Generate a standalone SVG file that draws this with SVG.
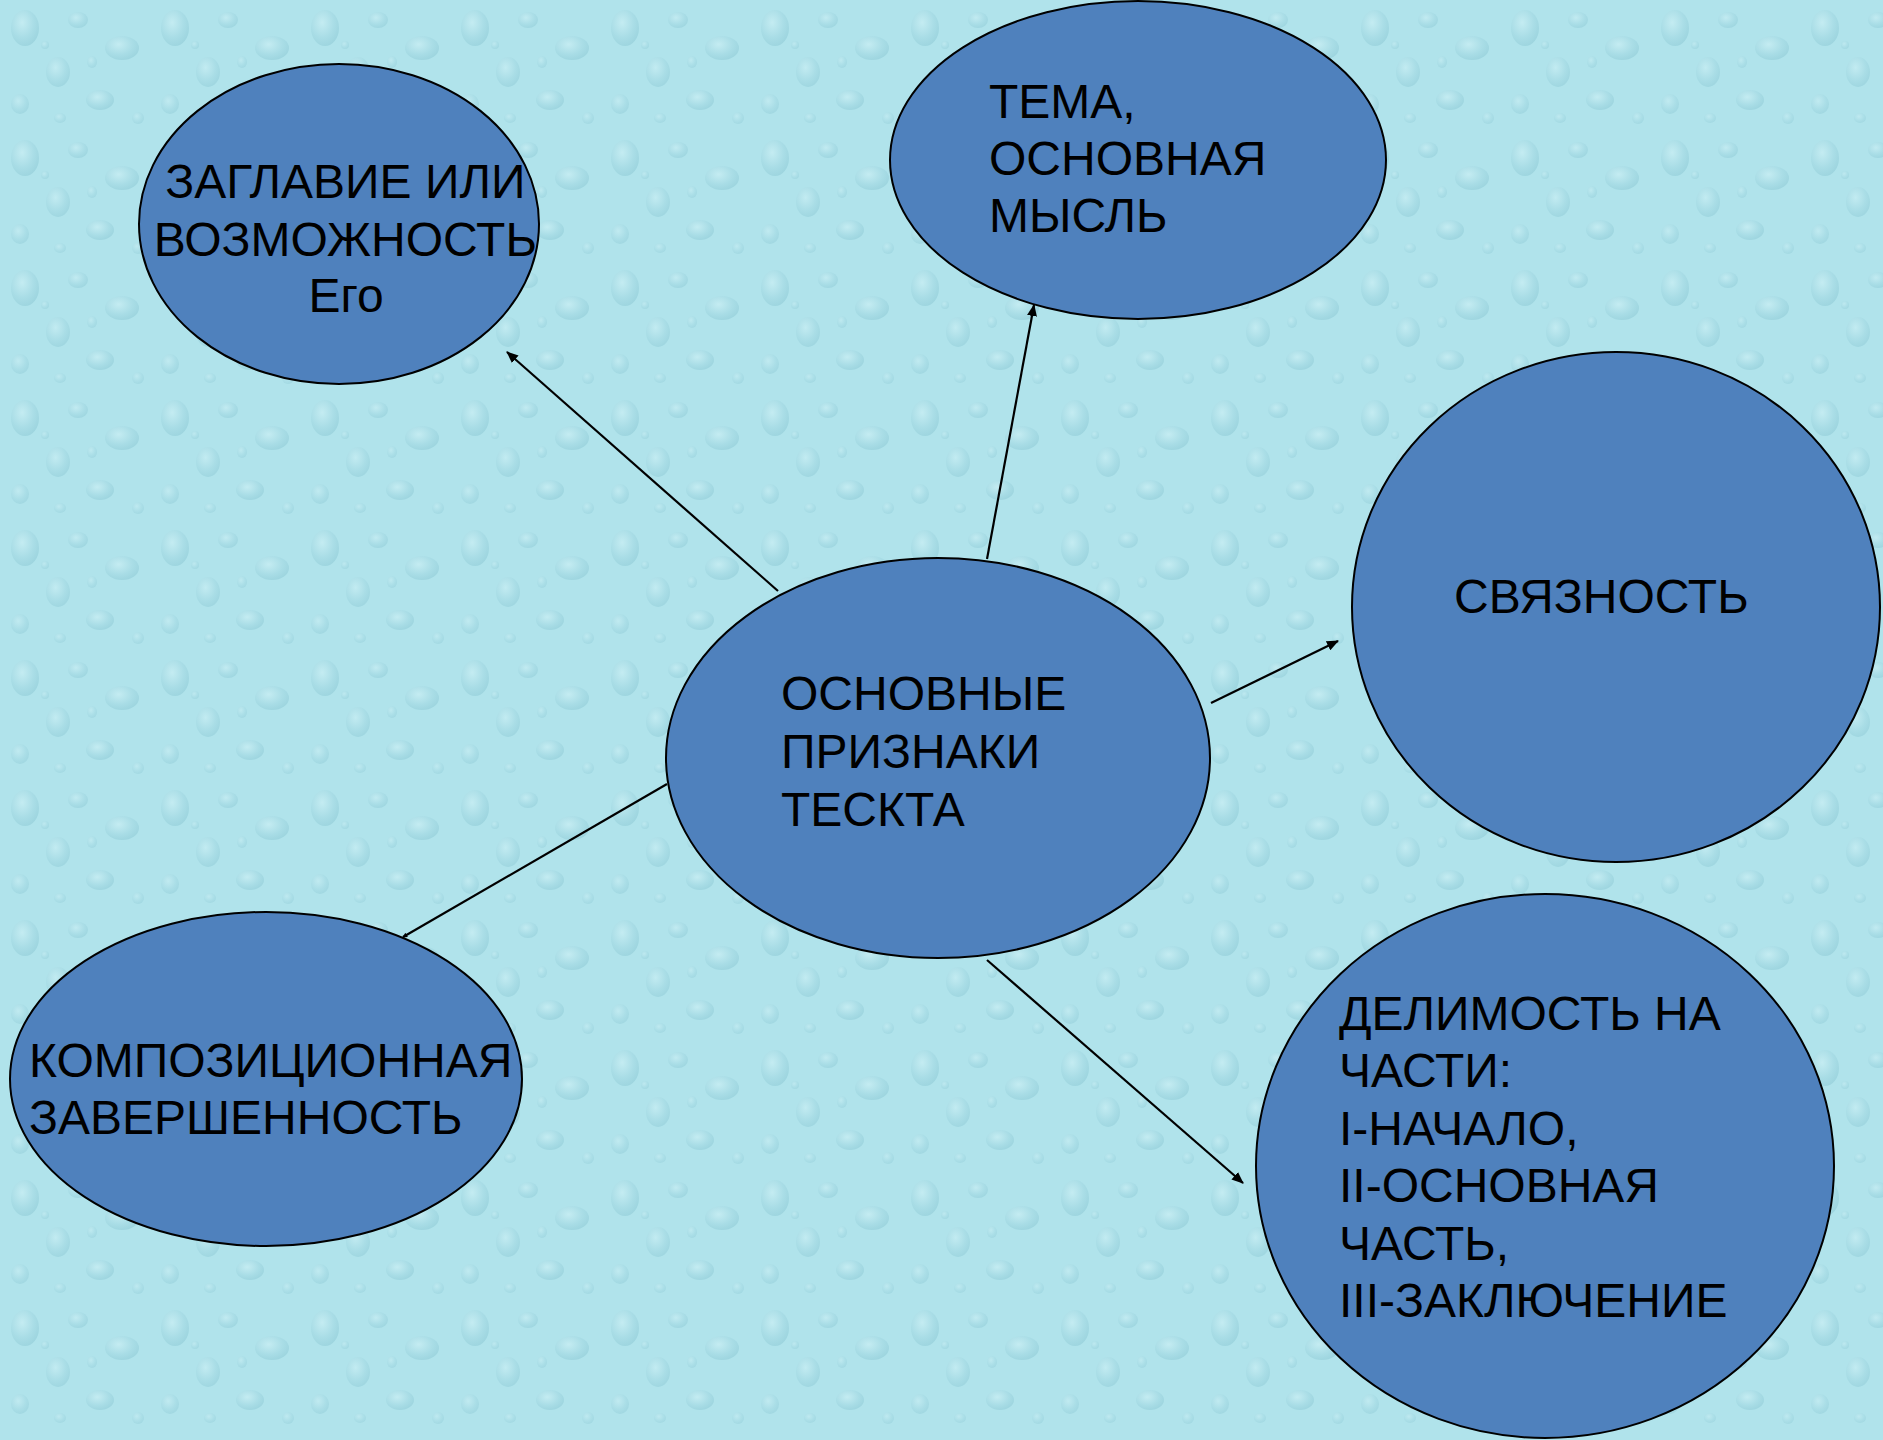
<svg xmlns="http://www.w3.org/2000/svg" width="1883" height="1440" viewBox="0 0 1883 1440">
  <defs>
    <style>
      .node { fill: #4f81bd; stroke: #000000; stroke-width: 2; }
      .lbl { font-family: "Liberation Sans", Arial, sans-serif; font-size: 48px; fill: #000000; }
      .conn { stroke: #000000; stroke-width: 2.2; fill: none; }
    </style>
    <radialGradient id="drop" cx="0.4" cy="0.35" r="0.7">
      <stop offset="0" stop-color="#d4f3f7"/>
      <stop offset="0.6" stop-color="#a3d8e2"/>
      <stop offset="1" stop-color="#8cc8d4"/>
    </radialGradient>
    <pattern id="water" x="0" y="0" width="150" height="130" patternUnits="userSpaceOnUse">
      <rect width="150" height="130" fill="#b0e3eb"/>
      <ellipse cx="25" cy="28" rx="14" ry="18" fill="url(#drop)" opacity="0.55"/>
      <ellipse cx="78" cy="20" rx="10" ry="8" fill="url(#drop)" opacity="0.5"/>
      <ellipse cx="122" cy="48" rx="17" ry="12" fill="url(#drop)" opacity="0.55"/>
      <ellipse cx="58" cy="72" rx="12" ry="15" fill="url(#drop)" opacity="0.5"/>
      <ellipse cx="100" cy="100" rx="14" ry="10" fill="url(#drop)" opacity="0.55"/>
      <ellipse cx="20" cy="104" rx="9" ry="10" fill="url(#drop)" opacity="0.45"/>
      <ellipse cx="138" cy="118" rx="6" ry="6" fill="url(#drop)" opacity="0.4"/>
      <ellipse cx="60" cy="118" rx="6" ry="5" fill="url(#drop)" opacity="0.4"/>
      <ellipse cx="92" cy="62" rx="5" ry="6" fill="url(#drop)" opacity="0.4"/>
      <ellipse cx="45" cy="45" rx="4" ry="4" fill="url(#drop)" opacity="0.4"/>
    </pattern>
    <marker id="arrow" viewBox="0 0 12 10" refX="11" refY="5" markerWidth="12" markerHeight="10" markerUnits="userSpaceOnUse" orient="auto">
      <path d="M0,0 L12,5 L0,10 Z" fill="#000000"/>
    </marker>
    <marker id="arrowSmall" viewBox="0 0 6 6" refX="5" refY="3" markerWidth="5" markerHeight="5" markerUnits="userSpaceOnUse" orient="auto">
      <path d="M0,0 L6,3 L0,6 Z" fill="#000000"/>
    </marker>
  </defs>

  <rect id="background" x="0" y="0" width="1883" height="1440" fill="url(#water)"/>

  <g id="connectors">
    <line class="conn" x1="778" y1="591" x2="507" y2="352" marker-end="url(#arrow)"/>
    <line class="conn" x1="987" y1="559" x2="1034" y2="305" marker-end="url(#arrow)"/>
    <line class="conn" x1="1211" y1="703" x2="1338" y2="641" marker-end="url(#arrow)"/>
    <line class="conn" x1="667" y1="784" x2="403" y2="937" marker-end="url(#arrowSmall)"/>
    <line class="conn" x1="987" y1="960" x2="1243" y2="1183" marker-end="url(#arrow)"/>
  </g>

  <g id="node-title">
    <ellipse class="node" cx="339" cy="224" rx="200" ry="160"/>
    <text class="lbl" text-anchor="middle">
      <tspan x="352" y="198">ЗАГЛАВИЕ ИЛИ</tspan>
      <tspan x="352" y="256">ВОЗМОЖНОСТЬ</tspan>
      <tspan x="346" y="312">Его</tspan>
    </text>
  </g>

  <g id="node-theme">
    <ellipse class="node" cx="1138" cy="160" rx="248" ry="159"/>
    <text class="lbl">
      <tspan x="989" y="118">ТЕМА,</tspan>
      <tspan x="989" y="175">ОСНОВНАЯ</tspan>
      <tspan x="989" y="232">МЫСЛЬ</tspan>
    </text>
  </g>

  <g id="node-coherence">
    <ellipse class="node" cx="1616" cy="607" rx="264" ry="255"/>
    <text class="lbl" x="1454" y="613">СВЯЗНОСТЬ</text>
  </g>

  <g id="node-center">
    <ellipse class="node" cx="938" cy="758" rx="272" ry="200"/>
    <text class="lbl">
      <tspan x="781" y="710">ОСНОВНЫЕ</tspan>
      <tspan x="781" y="768">ПРИЗНАКИ</tspan>
      <tspan x="781" y="826">ТЕСКТА</tspan>
    </text>
  </g>

  <g id="node-composition">
    <ellipse class="node" cx="266" cy="1079" rx="256" ry="167"/>
    <text class="lbl">
      <tspan x="29" y="1077">КОМПОЗИЦИОННАЯ</tspan>
      <tspan x="29" y="1134">ЗАВЕРШЕННОСТЬ</tspan>
    </text>
  </g>

  <g id="node-parts">
    <ellipse class="node" cx="1545" cy="1166" rx="289" ry="272"/>
    <text class="lbl">
      <tspan x="1339" y="1030">ДЕЛИМОСТЬ НА</tspan>
      <tspan x="1339" y="1087">ЧАСТИ:</tspan>
      <tspan x="1339" y="1145">I-НАЧАЛО,</tspan>
      <tspan x="1339" y="1202">II-ОСНОВНАЯ</tspan>
      <tspan x="1339" y="1260">ЧАСТЬ,</tspan>
      <tspan x="1339" y="1317">III-ЗАКЛЮЧЕНИЕ</tspan>
    </text>
  </g>
</svg>
